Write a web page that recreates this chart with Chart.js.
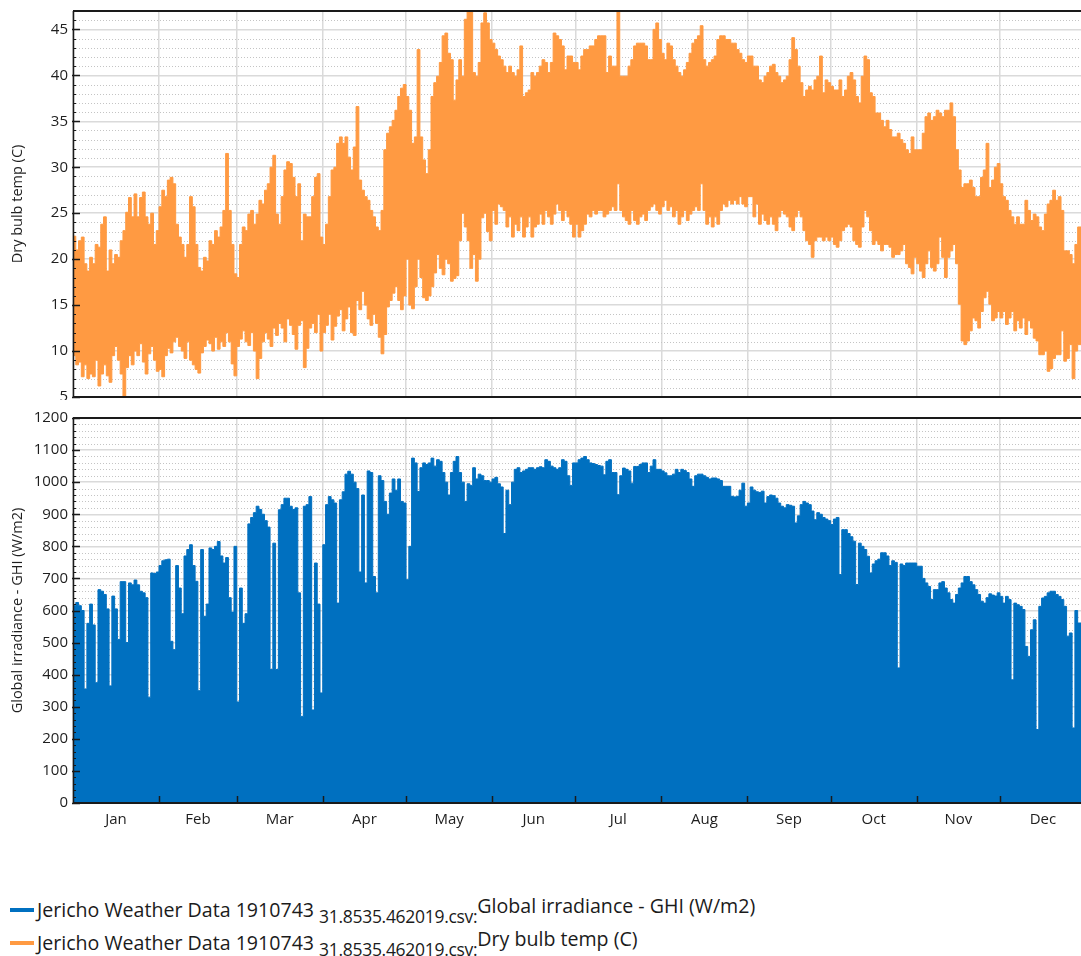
<!DOCTYPE html>
<html>
<head>
<meta charset="utf-8">
<title>Jericho weather data</title>
<script src="https://cdn.jsdelivr.net/npm/chart.js@4.4.1/dist/chart.umd.min.js"></script>
<style>
  html, body { margin: 0; padding: 0; background: #ffffff; }
  body { width: 1081px; height: 956px; position: relative; overflow: hidden; font-family: "Open Sans", "Noto Sans", sans-serif; }
  #tempCanvas { position: absolute; left: 0; top: 0; }
  #ghiCanvas { position: absolute; left: 0; top: 404px; }
  .legend { position: absolute; left: 10px; top: 893px; color: #1b1b1b; }
  .row { height: 33px; display: flex; align-items: center; white-space: nowrap; font-size: 19.6px; }
  .swatch { display: inline-block; width: 24px; height: 4px; margin-right: 3px; }
  .sub { font-size: 17.5px; position: relative; top: 6px; margin-left: 5px; letter-spacing: -0.3px; }
  .sup { position: relative; top: -4px; }
</style>
</head>
<body>
<canvas id="tempCanvas" width="1081" height="400"></canvas>
<canvas id="ghiCanvas" width="1081" height="440"></canvas>
<div class="legend">
  <div class="row"><span class="swatch" style="background:#0070C0"></span><span>Jericho Weather Data 1910743</span><span class="sub">31.8535.462019.csv:</span><span class="sup">Global irradiance - GHI (W/m2)</span></div>
  <div class="row"><span class="swatch" style="background:#FF9A42"></span><span>Jericho Weather Data 1910743</span><span class="sub">31.8535.462019.csv:</span><span class="sup">Dry bulb temp (C)</span></div>
</div>
<script>
// Month names and lengths (day-of-year axis)
const MONTHS = ['Jan', 'Feb', 'Mar', 'Apr', 'May', 'Jun', 'Jul', 'Aug', 'Sep', 'Oct', 'Nov', 'Dec'];
const MONTH_DAYS = [31, 28, 31, 30, 31, 30, 31, 31, 30, 31, 30, 31];

// Daily maximum dry bulb temperature (C), 1 Jan .. 29 Dec
const tempMax = [
  22.5, 21, 22, 22.4, 19.5, 18.7, 20.2, 19.5, 21.6, 21.3, 23.8, 24.6, 18.7, 21, 19.5, 20.5, 20.2, 22, 23.1, 25.1, 26.7, 24.6, 27.1, 24.6, 26.7, 27.3, 24.6, 23.8, 25, 21.6, 23.1,
  25.7, 27.5, 26.8, 28.6, 28.9, 28.2, 23.8, 22.4, 21.6, 20.2, 21.6, 26.8, 25.7, 21.6, 19.1, 18.7, 20.2, 19.8, 22, 21.6, 23.1, 22.4, 23.5, 25.3, 31.5, 25.3, 21.6, 18.4,
  18, 21.6, 23.5, 23.1, 24.9, 25.3, 23.8, 24.9, 26.4, 26, 27.5, 28.2, 30, 31.3, 24.9, 23.8, 26.8, 29.7, 30.6, 30.4, 28.9, 26.8, 28.2, 22, 24.9, 24.6, 24.6, 26.8, 28.9, 29.3, 22.4,
  21.6, 23.8, 26.8, 29.7, 30, 32.6, 33.3, 32.6, 33.3, 31.1, 29.7, 32.2, 36.6, 28.6, 27.5, 26.8, 26.4, 25.3, 24.6, 23.5, 23.1, 25.3, 31.9, 33.7, 34.4, 35.1, 36.2, 37.7, 38.6, 39,
  37.7, 36.2, 32.6, 33.3, 42.8, 33.3, 30.8, 29.3, 31.9, 37.7, 39.2, 39.9, 41.4, 44.3, 44.6, 42.4, 41.7, 37.3, 39.5, 41.7, 39.9, 46.1, 47.5, 47.5, 40.3, 39.9, 41.4, 45.7, 46.8, 45.7, 43.9,
  43.5, 42.8, 42.1, 41.7, 41, 40.3, 41, 40.3, 39.9, 40.6, 43.2, 37.7, 38.1, 38.4, 40.3, 39.9, 40.3, 41, 41.7, 41.4, 40.3, 41.4, 44.6, 44.3, 43.9, 43.2, 40.6, 42.1, 42.1, 41.4,
  41.4, 40.6, 42.1, 42.8, 42.8, 43.2, 43.2, 43.9, 44.3, 44.3, 44.3, 40.3, 42.1, 41, 41, 47.5, 39.9, 39.9, 39.9, 41, 41.7, 43.2, 43.5, 43.5, 43.5, 43.2, 41.7, 41.7, 45, 45.7, 43.9,
  42.4, 41.7, 43.5, 43.2, 41.7, 41, 40.3, 39.9, 40.6, 41.4, 42.4, 43.5, 43.9, 44.3, 45.4, 41.7, 41, 41.4, 41.7, 42.1, 43.9, 44.3, 44.3, 43.9, 43.9, 43.5, 43.5, 42.8, 42.4, 41.7, 41.4,
  42.1, 42.1, 41, 41, 39.5, 39.2, 39.9, 40.3, 41, 41.2, 40.3, 39.9, 39.2, 39.5, 39.9, 41.7, 44.1, 42.8, 41, 39.2, 37.7, 38.4, 38.8, 38.4, 39.5, 39.9, 42.1, 38.1, 39.5, 39.2,
  38.8, 38.4, 38.4, 39.5, 37.7, 38.4, 39.9, 40.3, 39.5, 37.7, 37, 39.9, 42.1, 41.7, 38.1, 37.7, 35.9, 35.9, 35.1, 34.4, 35.1, 34.1, 33.3, 33.3, 33.7, 33, 32.6, 31.9, 31.5, 33.3, 31.9,
  31.9, 31.9, 33.7, 35.5, 35.9, 35.1, 35.5, 36.2, 35.9, 35.5, 36.2, 36.2, 37, 35.5, 31.9, 29.7, 27.8, 28.2, 28.2, 28.6, 27.8, 26.8, 26.8, 28.9, 29.7, 32.6, 27.8, 28.6, 30, 30.4,
  28.2, 26.8, 26.4, 25.3, 24.6, 23.8, 24.6, 23.8, 23.8, 26.4, 25.3, 24.2, 24.9, 24.6, 23.5, 23.1, 24.9, 26, 26.4, 27.5, 26.4, 26.8, 25.3, 20.9, 20.9, 20.5, 19.5, 21.6, 23.5
];

// Daily minimum dry bulb temperature (C)
const tempMin = [
  9.5, 8.5, 8.8, 7.2, 8.5, 7.0, 7.5, 7.2, 9.0, 6.2, 7.5, 8.5, 7.3, 6.6, 9.5, 10.5, 9.0, 7.5, 5.1, 8.2, 9.5, 8.5, 10.0, 9.5, 10.8, 8.8, 7.5, 9.7, 10.5, 9.0, 7.8,
  8.0, 7.2, 9.5, 10.3, 9.8, 11.0, 11.5, 10.5, 10.0, 9.2, 11.0, 9.0, 8.5, 8.0, 7.6, 9.8, 10.5, 11.2, 10.8, 10.0, 11.5, 10.2, 11.0, 10.5, 12.0, 11.0, 8.6, 7.3,
  10.5, 11.3, 12.2, 11.0, 10.6, 12.0, 10.0, 7.0, 9.2, 11.0, 12.0, 11.3, 10.5, 12.5, 11.7, 13.0, 12.5, 11.0, 13.5, 12.8, 11.8, 10.2, 12.8, 13.3, 8.2, 10.3, 12.5, 13.0, 12.0, 14.0, 10.0,
  12.0, 12.8, 14.0, 11.2, 12.7, 13.8, 14.5, 12.2, 13.5, 14.8, 12.0, 11.7, 15.5, 14.5, 16.5, 15.0, 13.5, 12.8, 14.0, 13.0, 11.5, 9.7, 11.8, 14.8, 15.5, 16.3, 17.0, 15.5, 14.5, 16.0,
  20.0, 15.0, 14.6, 17.0, 20.0, 18.0, 15.8, 15.5, 16.0, 17.0, 18.5, 20.5, 19.0, 18.3, 20.0, 19.5, 17.6, 17.9, 18.2, 22.0, 25.0, 23.5, 22.0, 19.0, 20.5, 17.6, 20.0, 24.5, 25.0, 23.0, 22.0,
  25.3, 23.8, 26, 25.7, 25.3, 23.5, 24.6, 22.4, 23.8, 23.1, 24.6, 22.4, 23.5, 24.6, 22.4, 23.5, 23.8, 24.9, 23.8, 25.3, 24.6, 23.8, 24.9, 26, 25.3, 24.2, 25.3, 24.6, 23.8, 22.4,
  23.8, 22.4, 23.1, 23.8, 24.9, 24.6, 25.3, 24.9, 25.3, 25.3, 24.6, 24.9, 25.3, 25.7, 25.3, 28.2, 25.3, 24.6, 24.2, 23.8, 25.3, 24.2, 23.8, 24.6, 24.9, 24.2, 25.3, 25.7, 26, 25.3, 24.9,
  25.7, 26.4, 25.3, 25.7, 24.6, 25.3, 23.8, 24.6, 25.3, 24.2, 24.9, 25.3, 25.7, 25.3, 28.2, 25.3, 23.8, 24.6, 23.5, 24.6, 23.8, 25.3, 26, 25.7, 26.4, 26, 26.4, 26, 26.8, 26, 25.7,
  26.8, 26.8, 24.6, 26, 23.8, 24.9, 24.2, 23.8, 24.6, 23.8, 23.1, 24.6, 25.3, 24.9, 24.6, 23.5, 23.1, 24.6, 25.3, 24.6, 23.1, 22, 21.6, 20.2, 22, 22.4, 22.4, 22, 22.4, 22,
  22.4, 21.6, 21.3, 22, 23.1, 23.5, 23.8, 23.5, 22, 21.6, 21.3, 23.5, 25.3, 24.6, 23.1, 21.6, 22, 21.6, 20.9, 21.6, 21.6, 21.3, 20.2, 20.5, 20.5, 20.9, 21.6, 19.5, 19.1, 18.4, 20.2,
  19.5, 18.7, 18, 19.5, 20.9, 19.1, 18.7, 19.5, 22.4, 20.2, 18, 20.2, 20.9, 21.6, 19.5, 15.1, 11.1, 10.7, 11.1, 12.2, 13.6, 13.3, 12.5, 14.3, 15.8, 16.5, 15.1, 13.3, 13.6, 14.3,
  13.6, 14.3, 12.9, 13.6, 14.3, 12.2, 13.3, 12.5, 13.6, 11.8, 13.3, 12.5, 11.4, 11.1, 9.6, 9.6, 10, 7.8, 8.1, 9.2, 9.6, 9.6, 12.2, 8.9, 9.2, 10.7, 7, 10, 10.7
];

// Daily peak global horizontal irradiance (W/m2)
const ghiPeak = [
  615, 625, 615, 600, 355, 560, 620, 555, 375, 665, 660, 650, 605, 365, 645, 605, 510, 690, 690, 500, 686, 680, 695, 680, 660, 655, 640, 330, 717, 715, 720,
  740, 755, 758, 760, 504, 478, 740, 670, 590, 770, 790, 805, 740, 691, 350, 790, 582, 620, 795, 790, 800, 815, 770, 748, 765, 640, 595, 800,
  315, 670, 560, 590, 870, 890, 905, 925, 915, 900, 880, 860, 416, 810, 416, 914, 930, 950, 950, 925, 915, 920, 655, 270, 925, 930, 955, 290, 748, 620, 343,
  805, 930, 955, 945, 935, 623, 945, 970, 1025, 1034, 1025, 1000, 980, 720, 960, 686, 1035, 1030, 706, 655, 1020, 1005, 940, 900, 966, 1010, 975, 1010, 940, 935,
  696, 800, 1075, 1060, 971, 1045, 1060, 1055, 1060, 1075, 1050, 1070, 1065, 1030, 1000, 960, 1030, 1065, 1080, 1030, 1000, 940, 995, 990, 1045, 1010, 1025, 1020, 1005, 1005, 1000,
  1010, 1015, 995, 985, 840, 975, 930, 1000, 1040, 1045, 1030, 1035, 1040, 1045, 1045, 1040, 1045, 1048, 1045, 1070, 1065, 1050, 1045, 1040, 1045, 1070, 1065, 1020, 990, 1060,
  1060, 1070, 1075, 1080, 1070, 1060, 1058, 1055, 1052, 1050, 1023, 1065, 1070, 1030, 1030, 961, 1020, 1044, 1040, 1035, 997, 1049, 1049, 1055, 1060, 1060, 1030, 1050, 1070, 1040, 1040,
  1035, 1029, 1020, 1020, 1025, 1040, 1030, 1040, 1036, 1030, 1010, 987, 1020, 1025, 1025, 1020, 1015, 1010, 1013, 1013, 1010, 1005, 987, 987, 987, 956, 954, 956, 975, 997, 925,
  935, 985, 975, 970, 968, 972, 935, 955, 960, 958, 950, 935, 925, 920, 930, 928, 925, 873, 895, 930, 940, 935, 930, 910, 883, 905, 900, 890, 885, 880,
  868, 885, 890, 712, 852, 852, 840, 830, 816, 681, 810, 800, 790, 769, 717, 745, 755, 760, 780, 780, 770, 740, 755, 750, 421, 745, 740, 748, 748, 748, 748,
  738, 738, 700, 686, 675, 634, 665, 665, 686, 690, 670, 655, 634, 623, 650, 670, 686, 706, 706, 690, 680, 665, 650, 629, 623, 640, 652, 648, 645, 655,
  644, 623, 644, 634, 384, 623, 618, 613, 603, 488, 457, 540, 571, 229, 613, 639, 644, 655, 660, 660, 650, 644, 634, 613, 520, 530, 234, 600, 561
];

const ORANGE = '#FF9A42';
const BLUE = '#0070C0';
const FONT = '"Open Sans", "Noto Sans", sans-serif';
const TEXT = '#1e1e1e';
const GRID = '#dadada';
const X_MAX = 363.2; // visible part of the year, in days

// Day-of-year where each month starts, and the middle of each month
const monthStart = [];
const monthMid = [];
MONTH_DAYS.reduce((acc, n) => { monthStart.push(acc); monthMid.push(acc + n / 2); return acc + n; }, 0);

// Each daily value is held across its whole day (stepped line)
function dailySteps(values) {
  const pts = values.map((v, i) => ({ x: i, y: v }));
  pts.push({ x: values.length + 1, y: values[values.length - 1] });
  return pts;
}

// Dotted minor grid, inward tick marks and the dark plot frame
const framePlugin = {
  id: 'frame',
  beforeDatasetsDraw(chart, args, opts) {
    const { ctx, chartArea: a } = chart;
    const y = chart.scales.y;
    ctx.save();
    ctx.strokeStyle = '#c4c4c4';
    ctx.lineWidth = 1;
    ctx.setLineDash([1, 2]);
    for (let v = y.min + opts.minor; v < y.max; v += opts.minor) {
      if (Math.abs(v % opts.major) < 1e-6) continue;
      const py = Math.round(y.getPixelForValue(v)) + 0.5;
      ctx.beginPath();
      ctx.moveTo(a.left, py);
      ctx.lineTo(a.right, py);
      ctx.stroke();
    }
    ctx.restore();
  },
  afterDatasetsDraw(chart, args, opts) {
    const { ctx, chartArea: a } = chart;
    const y = chart.scales.y;
    ctx.save();
    ctx.strokeStyle = '#1a1a1a';
    // minor and major ticks on the value axis, pointing into the plot
    for (let v = y.min; v <= y.max + 1e-6; v += opts.minor) {
      const major = Math.abs(v % opts.major) < 1e-6;
      const py = Math.round(y.getPixelForValue(v)) + 0.5;
      ctx.beginPath();
      ctx.moveTo(a.left - (major ? 1 : 0), py);
      ctx.lineTo(a.left + (major ? 7 : 3), py);
      ctx.lineWidth = major ? 1.5 : 1;
      ctx.stroke();
    }
    // month boundary ticks on the time axis
    if (opts.monthTicks) {
      const x = chart.scales.x;
      ctx.lineWidth = 1.5;
      monthStart.forEach(d => {
        if (d === 0) return;
        const px = Math.round(x.getPixelForValue(d)) + 0.5;
        ctx.beginPath();
        ctx.moveTo(px, a.bottom);
        ctx.lineTo(px, a.bottom - 7);
        ctx.stroke();
      });
    }
    // frame: top, bottom and left
    ctx.lineWidth = 2;
    ctx.beginPath();
    ctx.moveTo(a.left, a.top);
    ctx.lineTo(a.right, a.top);
    ctx.moveTo(a.left, a.bottom);
    ctx.lineTo(a.right, a.bottom);
    ctx.stroke();
    ctx.lineWidth = 1.5;
    ctx.beginPath();
    ctx.moveTo(a.left + 0.5, a.top);
    ctx.lineTo(a.left + 0.5, a.bottom);
    ctx.stroke();
    ctx.restore();
  }
};

function timeGridAxis() {
  return {
    type: 'linear', min: 0, max: X_MAX, weight: 0,
    afterBuildTicks: s => { s.ticks = monthStart.map(v => ({ value: v })); },
    ticks: { display: false },
    grid: { color: GRID, lineWidth: 1.5, drawTicks: false },
    border: { display: false },
    afterFit: s => { s.height = 0; s.paddingLeft = 0; s.paddingRight = 0; }
  };
}

function valueAxis(min, max, step, title) {
  return {
    min: min, max: max,
    ticks: { stepSize: step, includeBounds: false, padding: 5, color: TEXT, font: { family: FONT, size: 15 },
             callback: v => String(v) },
    grid: { color: GRID, lineWidth: 1.5, drawTicks: false },
    border: { display: false },
    title: { display: true, text: title, color: TEXT, font: { family: FONT, size: 14.5 }, padding: { top: 9, bottom: 0 } },
    afterFit: s => { s.width = 73; s.paddingTop = 0; s.paddingBottom = 0; }
  };
}

const common = {
  responsive: false,
  animation: false,
  devicePixelRatio: 1,
  plugins: { legend: { display: false }, tooltip: { enabled: false } }
};

// Dry bulb temperature: band between the daily minimum and maximum
new Chart(document.getElementById('tempCanvas'), {
  type: 'line',
  data: {
    datasets: [
      { label: 'Dry bulb temp (C) max', data: dailySteps(tempMax), stepped: true, fill: '+1',
        backgroundColor: ORANGE, borderColor: ORANGE, borderWidth: 1, pointRadius: 0 },
      { label: 'Dry bulb temp (C) min', data: dailySteps(tempMin), stepped: true, fill: false,
        borderColor: ORANGE, borderWidth: 1, pointRadius: 0 }
    ]
  },
  options: Object.assign({}, common, {
    layout: { padding: { top: 11, right: 0, bottom: 3, left: 0 } },
    scales: {
      x: timeGridAxis(),
      y: valueAxis(5, 47, 5, 'Dry bulb temp (C)')
    },
    plugins: Object.assign({}, common.plugins, { frame: { minor: 1, major: 5, monthTicks: false } })
  }),
  plugins: [framePlugin]
});

// Global horizontal irradiance: filled to zero under the daily peak
new Chart(document.getElementById('ghiCanvas'), {
  type: 'line',
  data: {
    datasets: [
      { label: 'Global irradiance - GHI (W/m2)', data: dailySteps(ghiPeak), stepped: true, fill: 'origin',
        backgroundColor: BLUE, borderColor: BLUE, borderWidth: 1, pointRadius: 0 }
    ]
  },
  options: Object.assign({}, common, {
    layout: { padding: { top: 14, right: 0, bottom: 4, left: 0 } },
    scales: {
      x: timeGridAxis(),
      x2: {
        type: 'linear', position: 'bottom', min: 0, max: X_MAX, weight: 1,
        afterBuildTicks: s => { s.ticks = monthMid.map(v => ({ value: v })); },
        ticks: { callback: (v, i) => MONTHS[i], autoSkip: false, maxRotation: 0, padding: 8, color: TEXT, font: { family: FONT, size: 15 } },
        grid: { display: false, drawTicks: false },
        border: { display: false },
        afterFit: s => { s.height = 37; s.paddingLeft = 0; s.paddingRight = 0; }
      },
      y: valueAxis(0, 1200, 100, 'Global irradiance - GHI (W/m2)')
    },
    plugins: Object.assign({}, common.plugins, { frame: { minor: 20, major: 100, monthTicks: true } })
  }),
  plugins: [framePlugin]
});
</script>
</body>
</html>
